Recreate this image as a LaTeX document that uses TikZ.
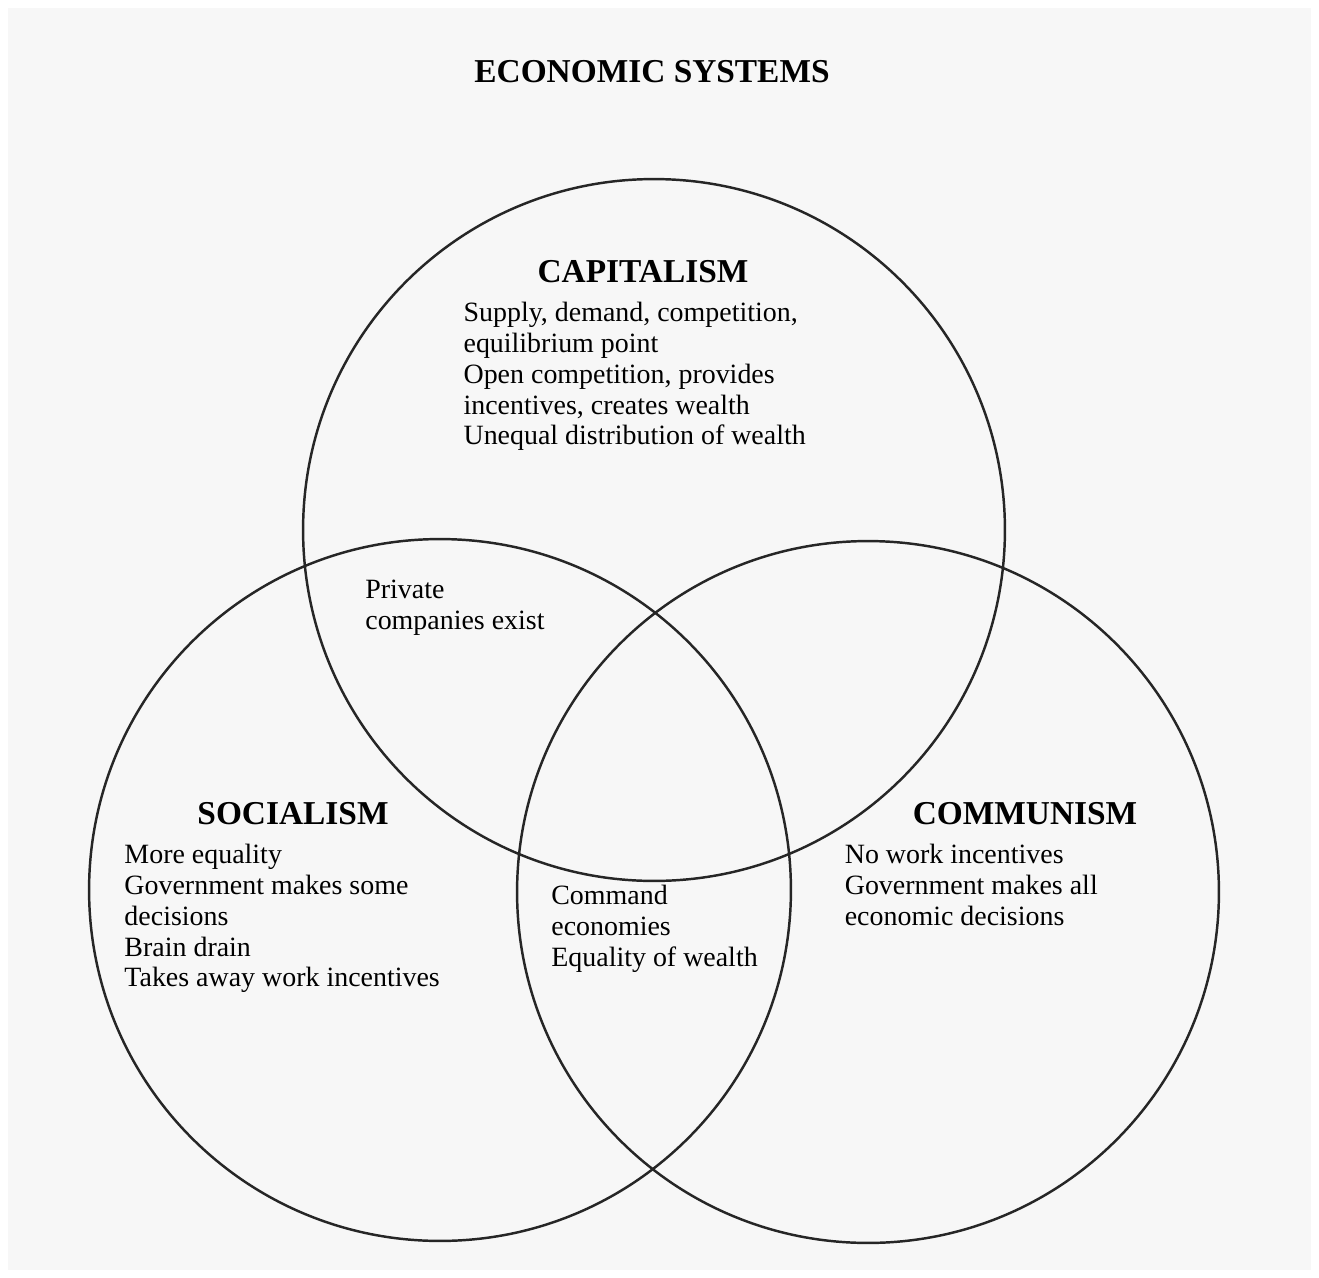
\documentclass[tikz,border=0pt]{standalone}
\usepackage{fontspec}
\setmainfont{Liberation Serif}
\usetikzlibrary{positioning}
\definecolor{paper}{RGB}{247,247,247}

\begin{document}
\begin{tikzpicture}
		[x=0.02cm, y=-0.02cm,
		ring/.style={circle,draw=black!85,line width=1.4pt,inner sep=0pt, minimum size=14.04cm},
		head/.style={font=\fontsize{19}{22}\selectfont\bfseries, inner sep=0pt},
		body/.style={font=\fontsize{15.9}{17.6}\selectfont, align=left, inner sep=0pt}]
		\fill[white] (0,0) rectangle (1319,1278);
		\fill[paper] (8,8) rectangle (1311,1270);

		\node [ring] (cap) at (654,530) {};
		\node [ring] (soc) at (440,890) {};
		\node [ring] (com) at (868,892) {};

		\node [head] (title) at (652,72) {ECONOMIC SYSTEMS};

		\node [head] (caphead) at (643,272) {CAPITALISM};
		\node [body] (capbody) [below=0.36cm of caphead.south west, anchor=north west, xshift=-1.48cm]
			{Supply, demand, competition,\\ equilibrium point\\ Open competition, provides\\ incentives, creates wealth\\ Unequal distribution of wealth};

		\node [head] (sochead) at (293,814) {SOCIALISM};
		\node [body] (socbody) [below=0.36cm of sochead.south west, anchor=north west, xshift=-1.46cm]
			{More equality\\ Government makes some\\ decisions\\ Brain drain\\ Takes away work incentives};

		\node [head] (comhead) at (1025,814) {COMMUNISM};
		\node [body] (combody) [below=0.36cm of comhead.south west, anchor=north west, xshift=-1.36cm]
			{No work incentives\\ Government makes all\\ economic decisions};

		\node [body, anchor=north west] (capsoc) at (365,580) {Private\\ companies exist};
		\node [body, anchor=north west] (middle) at (551,885) {Command\\ economies\\ Equality of wealth};

	\end{tikzpicture}
\end{document}
